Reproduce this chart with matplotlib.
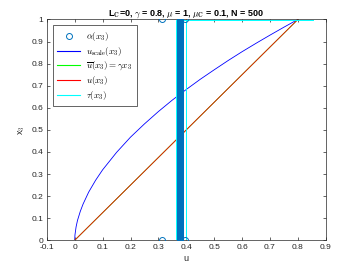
import numpy as np
import matplotlib
matplotlib.use("Agg")
import matplotlib.pyplot as plt

plt.rcParams['font.family'] = ['Liberation Sans', 'DejaVu Sans']
plt.rcParams['mathtext.fontset'] = 'cm'

# --- data ---
N = 500
x3_grid = np.linspace(0, 1, N)          # parameter grid (N from title)
alpha_level = 0.377                      # alpha(x3) for interior points
alpha_end_u = [0.312, 0.394, 0.312, 0.394]
alpha_end_x3 = [1.0, 1.0, 0.0, 0.0]

u_scale = [0.0, 0.001, 0.005, 0.01, 0.02, 0.03, 0.05, 0.075, 0.1, 0.15, 0.2, 0.25,
           0.3, 0.35, 0.4, 0.45, 0.5, 0.55, 0.6, 0.65, 0.7, 0.75, 0.8]
x3_curve = [0.0, 0.025, 0.061, 0.090, 0.131, 0.164, 0.218, 0.272, 0.319, 0.398, 0.467, 0.527,
            0.583, 0.635, 0.683, 0.729, 0.772, 0.814, 0.854, 0.892, 0.929, 0.965, 1.0]

x3_line = [0.0, 1.0]
u_bar = [0.0, 0.8]
u_vals = [0.0, 0.8]

tau_u = [0.855, 0.362, 0.362, 0.855]
tau_x3 = [0.003, 0.003, 0.997, 0.997]
tau2_u = [0.398, 0.398]
tau2_x3 = [0.003, 0.997]

xticks = [-0.1, 0, 0.1, 0.2, 0.3, 0.4, 0.5, 0.6, 0.7, 0.8, 0.9]
yticks = [0, 0.1, 0.2, 0.3, 0.4, 0.5, 0.6, 0.7, 0.8, 0.9, 1]

fig = plt.figure(figsize=(3.6, 2.7), dpi=100)
ax = fig.add_axes([0.13, 0.11, 0.775, 0.818])

mblue = '#0072BD'
ax.plot(alpha_level * np.ones(N), x3_grid, 'o', mfc='none', mec=mblue, ms=4.3, mew=0.7,
        label=r'$\alpha(x_3)$', zorder=3)
ax.plot(alpha_end_u, alpha_end_x3, 'o', mfc='none', mec=mblue, ms=4.3, mew=0.7, zorder=3)
ax.plot(u_scale, x3_curve, color='#0000FF', lw=0.6, label=r'$u_{\rm scale}(x_3)$')
ax.plot(u_bar, x3_line, color='#00FF00', lw=0.6, label=r'$\overline{u}(x_3) = \gamma x_3$')
ax.plot(u_vals, x3_line, color='#FF0000', lw=0.6, label=r'$u(x_3)$')
ax.plot(tau_u, tau_x3, color='#00FFFF', lw=0.7, label=r'$\tau(x_3)$')
ax.plot(tau2_u, tau2_x3, color='#00FFFF', lw=0.7)

ax.set_xlim(-0.1, 0.9)
ax.set_ylim(0, 1)
ax.set_xticks(xticks)
ax.set_xticklabels(['-0.1', '0', '0.1', '0.2', '0.3', '0.4', '0.5', '0.6', '0.7', '0.8', '0.9'])
ax.set_yticks(yticks)
ax.set_yticklabels(['0', '0.1', '0.2', '0.3', '0.4', '0.5', '0.6', '0.7', '0.8', '0.9', '1'])
ax.tick_params(direction='in', length=2.5, width=0.5, labelsize=6, colors='#262626',
               top=True, right=True, pad=2.5)
for s in ax.spines.values():
    s.set_color('#262626')
    s.set_linewidth(0.5)

ax.set_xlabel('u', fontsize=6.5, color='#262626', labelpad=2)
ax.set_ylabel(r'x$_3$', fontsize=6.5, color='#262626', labelpad=3)
ax.set_title(r'L$_\mathbf{C}$=0, $\gamma$ = 0.8, $\mu$ = 1, $\mu_\mathbf{C}$ = 0.1, N = 500',
             fontsize=6.5, fontweight='bold', color='black', pad=3)

leg = ax.legend(loc='upper left', fontsize=6.5, frameon=True, fancybox=False,
                edgecolor='#262626', framealpha=1, borderpad=0.5, handlelength=2.5,
                handletextpad=0.7, labelspacing=0.2, borderaxespad=0,
                bbox_to_anchor=(0.0215, 0.973))
leg.get_frame().set_linewidth(0.5)
for h in leg.get_lines():
    h.set_linewidth(0.8)

fig.savefig('out.png', dpi=100)
